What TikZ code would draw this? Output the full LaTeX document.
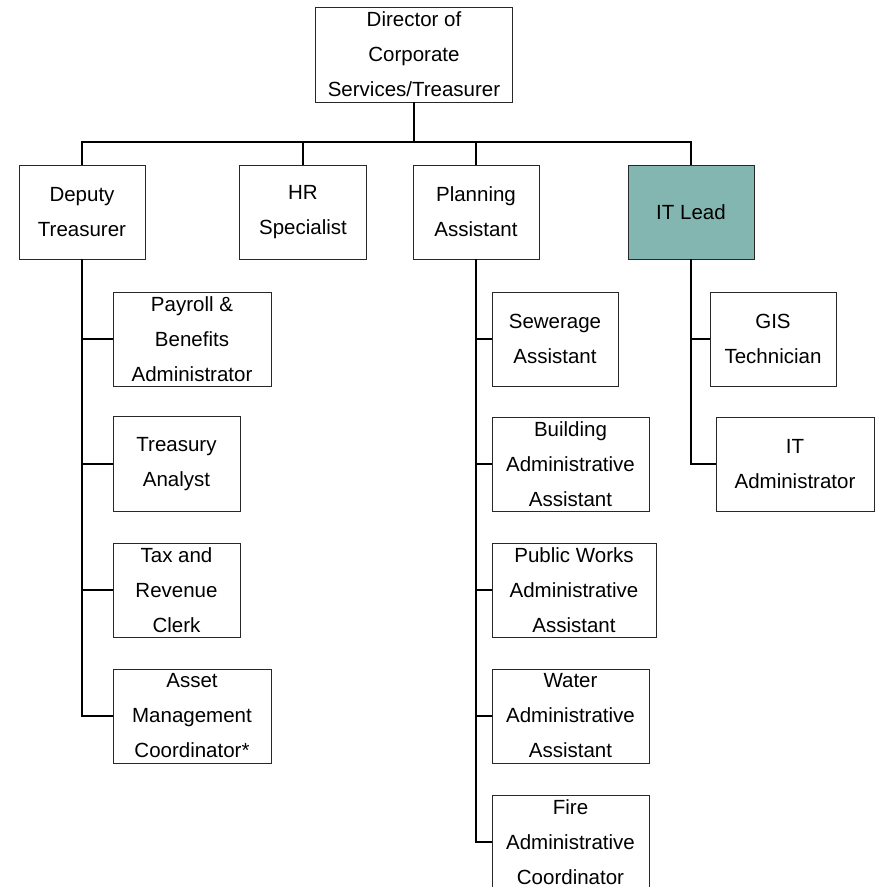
\documentclass[tikz,border=0pt]{standalone}
\usepackage{fontspec}
\setmainfont{Liberation Sans}
\definecolor{leadfill}{RGB}{131,182,176}
\definecolor{boxline}{RGB}{40,40,40}
\tikzset{
  orgbox/.style={draw=boxline, line width=0.9pt, rectangle, inner sep=0pt,
    align=center, minimum height=94pt, fill=white,
    font=\fontsize{20.5}{35}\selectfont},
  link/.style={draw=black, line width=2pt},
}
\begin{document}
\begin{tikzpicture}[x=1pt, y=-1pt]
\useasboundingbox (0,0) rectangle (877,887);

% top level
\node[orgbox, minimum width=197pt, minimum height=95pt] (dir) at (414,54.5) {Director of\\Corporate\\Services/Treasurer};

% second level
\node[orgbox, minimum width=126pt] (dep) at (82,212) {Deputy\\Treasurer};
\node[orgbox, minimum width=127pt] (hr) at (303,212) {HR\\Specialist};
\node[orgbox, minimum width=126pt] (plan) at (476,212) {Planning\\Assistant};
\node[orgbox, minimum width=126pt, fill=leadfill] (itl) at (691,212) {IT Lead};

% reports of the deputy treasurer
\node[orgbox, minimum width=158pt] (pay) at (192,339) {Payroll \&\\Benefits\\Administrator};
\node[orgbox, minimum width=127pt, minimum height=95pt] (tra) at (176.5,464) {Treasury\\Analyst};
\node[orgbox, minimum width=127pt] (tax) at (176.5,590) {Tax and\\Revenue\\Clerk};
\node[orgbox, minimum width=158pt] (ass) at (192,716) {Asset\\Management\\Coordinator*};

% reports of the planning assistant
\node[orgbox, minimum width=126pt] (sew) at (555,339) {Sewerage\\Assistant};
\node[orgbox, minimum width=157pt] (bld) at (570.5,464) {Building\\Administrative\\Assistant};
\node[orgbox, minimum width=164pt] (pub) at (574,590) {Public Works\\Administrative\\Assistant};
\node[orgbox, minimum width=157pt] (wat) at (570.5,716) {Water\\Administrative\\Assistant};
\node[orgbox, minimum width=157pt] (fir) at (570.5,842) {Fire\\Administrative\\Coordinator};

% reports of the IT lead
\node[orgbox, minimum width=126pt] (gis) at (773,339) {GIS\\Technician};
\node[orgbox, minimum width=158pt] (ita) at (795,464) {IT\\Administrator};

% bus under the director
\coordinate (bus) at (414,142);
\draw[link] (dir.south) -- (bus);
\draw[link] (dep.north) -- (dep.north |- bus) -| (itl.north);
\draw[link] (hr.north) -- (hr.north |- bus);
\draw[link] (plan.north) -- (plan.north |- bus);

% side trunks
\draw[link] (dep.south) |- (ass.west);
\draw[link] (dep.south |- pay.west) -- (pay.west);
\draw[link] (dep.south |- tra.west) -- (tra.west);
\draw[link] (dep.south |- tax.west) -- (tax.west);

\draw[link] (plan.south) |- (fir.west);
\draw[link] (plan.south |- sew.west) -- (sew.west);
\draw[link] (plan.south |- bld.west) -- (bld.west);
\draw[link] (plan.south |- pub.west) -- (pub.west);
\draw[link] (plan.south |- wat.west) -- (wat.west);

\draw[link] (itl.south) |- (ita.west);
\draw[link] (itl.south |- gis.west) -- (gis.west);
\end{tikzpicture}
\end{document}
